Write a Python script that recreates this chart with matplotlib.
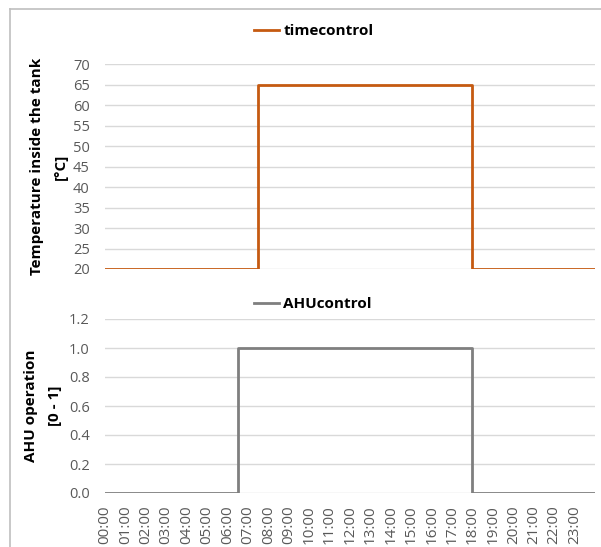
import matplotlib
matplotlib.use("Agg")
import matplotlib.pyplot as plt
from matplotlib.lines import Line2D

plt.rcParams['font.family'] = ['Open Sans', 'DejaVu Sans']

# Schedule change points (hours of the day) and the value held from each point on
temp_hours = [0, 7.5, 18, 24]
temp_values = [20, 65, 20, 20]
ahu_hours = [0, 6.5, 18, 24]
ahu_values = [0, 1, 0, 0]

hour_labels = [f"{h:02d}:00" for h in range(24)]
temp_ticks = [20, 25, 30, 35, 40, 45, 50, 55, 60, 65, 70]
ahu_ticks = [0.0, 0.2, 0.4, 0.6, 0.8, 1.0, 1.2]

orange = '#C55A11'
gray = '#7F7F7F'
grid_c = '#D9D9D9'
tick_c = '#595959'

fig = plt.figure(figsize=(6.01, 5.47), dpi=100)

# chart frame edges
fig.add_artist(Line2D([10/601, 10/601], [0, 1 - 9/547], transform=fig.transFigure, color='#BFBFBF', lw=1.2))
fig.add_artist(Line2D([10/601, 1], [1 - 9/547, 1 - 9/547], transform=fig.transFigure, color='#BFBFBF', lw=1.2))

ax1 = fig.add_axes([105/601, 1 - 269/547, 490/601, 205/547])
ax2 = fig.add_axes([105/601, 1 - 493/547, 490/601, 174/547])

for ax in (ax1, ax2):
    for s in ax.spines.values():
        s.set_visible(False)
    ax.set_xlim(0, 24)
    ax.grid(axis='y', color=grid_c, lw=1.0)
    ax.set_axisbelow(True)
    ax.tick_params(axis='y', length=0, pad=11, labelsize=10.5, labelcolor=tick_c)

ax1.step(temp_hours, temp_values, where='post', color=orange, lw=2.0)
ax1.set_ylim(20, 70)
ax1.set_yticks(temp_ticks)
ax1.set_xticks([])
ax1.set_ylabel("Temperature inside the tank\n[°C]", fontsize=11, fontweight='bold',
               linespacing=1.95)
ax1.yaxis.set_label_coords(-0.075, 0.5)

ax2.step(ahu_hours, ahu_values, where='post', color=gray, lw=2.0)
ax2.set_ylim(0, 1.2)
ax2.set_yticks(ahu_ticks)
ax2.set_yticklabels([f"{v:.1f}" for v in ahu_ticks])
ax2.set_xticks(range(24))
ax2.set_xticklabels(hour_labels, rotation=90)
ax2.tick_params(axis='x', length=0, pad=9, labelsize=11, labelcolor=tick_c)
ax2.set_ylabel("AHU operation\n[0 - 1]", fontsize=11, fontweight='bold',
               linespacing=1.95)
ax2.yaxis.set_label_coords(-0.087, 0.5)

fig.legend(handles=[Line2D([], [], color=orange, lw=2.0, label='timecontrol')],
           loc='center', bbox_to_anchor=(314/601, 1 - 31/547), frameon=False,
           handlelength=1.6, handletextpad=0.3, prop={'weight': 'bold', 'size': 11})
fig.legend(handles=[Line2D([], [], color=gray, lw=2.0, label='AHUcontrol')],
           loc='center', bbox_to_anchor=(313/601, 1 - 304/547), frameon=False,
           handlelength=1.6, handletextpad=0.3, prop={'weight': 'bold', 'size': 11})

fig.savefig("out.png", dpi=100)
